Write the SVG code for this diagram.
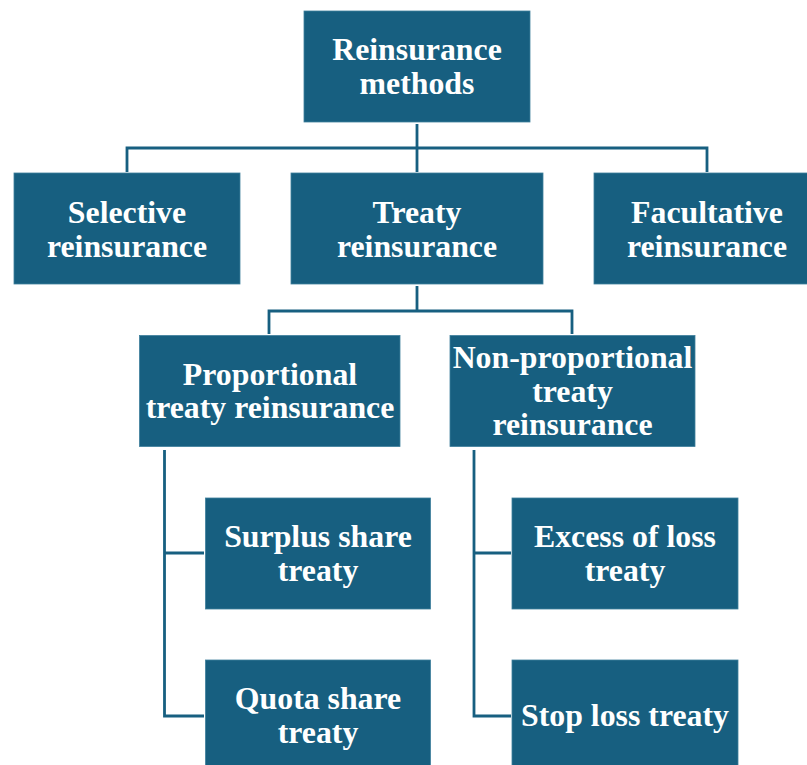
<svg xmlns="http://www.w3.org/2000/svg" width="807" height="765" viewBox="0 0 807 765">
<style>
.box{fill:#175f80;stroke:#3f7f9c;stroke-width:0.8}
.t{font-family:"Liberation Serif","Times New Roman",serif;font-weight:bold;font-size:31.8px;fill:#ffffff;text-anchor:middle}
.c{fill:none;stroke:#175f80;stroke-width:2.8}
</style>
<rect width="807" height="765" fill="#ffffff"/>
<g id="connectors">
<path class="c" d="M417 124V148M127 172V148H707V172M417 148V172"/>
<path class="c" d="M417 286V311M269 334V311H572V334"/>
<path class="c" d="M164.5 450V716H204M164.5 553H204"/>
<path class="c" d="M474 450V716H511M474 553H511"/>
</g>
<g id="n-root"><rect class="box" x="304" y="11" width="226" height="111"/><text class="t" x="417" y="60">Reinsurance</text><text class="t" x="417" y="94">methods</text></g>
<g id="n-selective"><rect class="box" x="14" y="173" width="226" height="111"/><text class="t" x="127" y="223">Selective</text><text class="t" x="127" y="256.5">reinsurance</text></g>
<g id="n-treaty"><rect class="box" x="291" y="173" width="252" height="111"/><text class="t" x="417" y="223">Treaty</text><text class="t" x="417" y="256.5">reinsurance</text></g>
<g id="n-facultative"><rect class="box" x="594" y="173" width="226" height="111"/><text class="t" x="707" y="223">Facultative</text><text class="t" x="707" y="256.5">reinsurance</text></g>
<g id="n-proportional"><rect class="box" x="139.5" y="335.5" width="260.5" height="111"/><text class="t" x="270" y="384.5">Proportional</text><text class="t" x="270" y="418">treaty reinsurance</text></g>
<g id="n-nonproportional"><rect class="box" x="450" y="335.5" width="245" height="111"/><text class="t" x="572.5" y="368">Non-proportional</text><text class="t" x="572.5" y="401.5">treaty</text><text class="t" x="572.5" y="435">reinsurance</text></g>
<g id="n-surplus"><rect class="box" x="205.5" y="498" width="225" height="111"/><text class="t" x="318" y="547">Surplus share</text><text class="t" x="318" y="580.5">treaty</text></g>
<g id="n-quota"><rect class="box" x="205.5" y="660" width="225" height="111"/><text class="t" x="318" y="709">Quota share</text><text class="t" x="318" y="742.5">treaty</text></g>
<g id="n-excess"><rect class="box" x="512" y="498" width="226" height="111"/><text class="t" x="625" y="547">Excess of loss</text><text class="t" x="625" y="580.5">treaty</text></g>
<g id="n-stoploss"><rect class="box" x="512" y="660" width="226" height="111"/><text class="t" x="625" y="726">Stop loss treaty</text></g>
</svg>
